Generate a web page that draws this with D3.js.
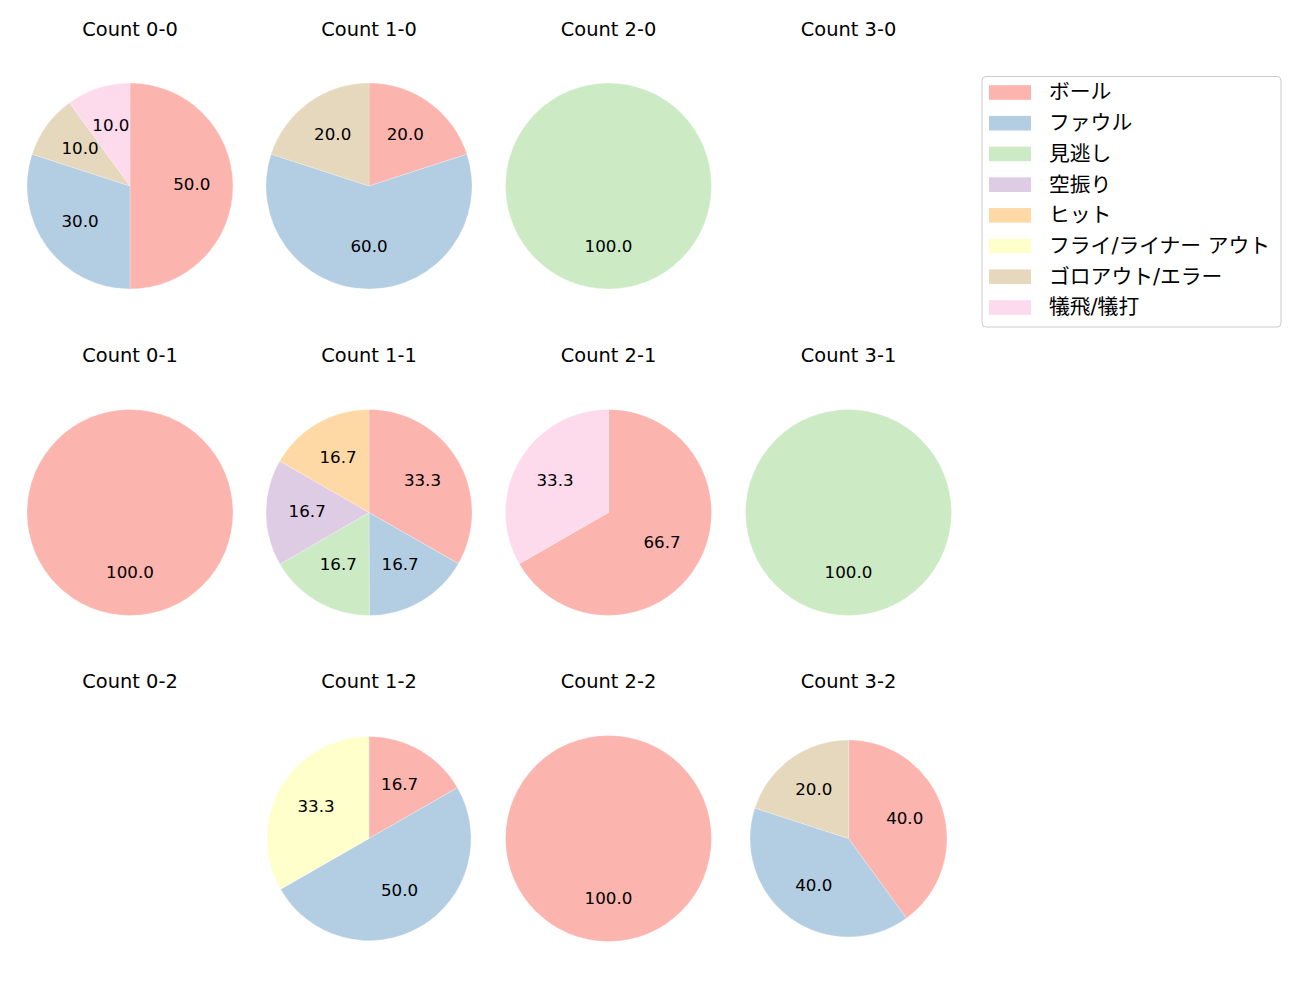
<!DOCTYPE html>
<html><head><meta charset="utf-8">
<script src="https://cdn.jsdelivr.net/npm/d3@7"></script>
<style>
body{margin:0;background:#fff;}
svg text{font-family:"DejaVu Sans","Noto Sans CJK JP",sans-serif;fill:#000;}
</style></head>
<body><svg id="c" width="1300" height="1000"></svg>
<script>
const categories = ["ボール","ファウル","見逃し","空振り","ヒット","フライ/ライナー アウト","ゴロアウト/エラー","犠飛/犠打"];
const colors = ["#fbb4ae","#b3cde3","#ccebc5","#decbe4","#fed9a6","#ffffcc","#e5d8bd","#fddaec"];
const counts = ["0-0","1-0","2-0","3-0","0-1","1-1","2-1","3-1","0-2","1-2","2-2","3-2"];
// values per count, in category order (percent)
const v00 = [50,30,0,0,0,0,10,10];
const v10 = [20,60,0,0,0,0,20,0];
const v20 = [0,0,100,0,0,0,0,0];
const v30 = [0,0,0,0,0,0,0,0];
const v01 = [100,0,0,0,0,0,0,0];
const v11 = [33.3,16.7,16.7,16.7,16.7,0,0,0];
const v21 = [66.7,0,0,0,0,0,0,33.3];
const v31 = [0,0,100,0,0,0,0,0];
const v02 = [0,0,0,0,0,0,0,0];
const v12 = [16.7,50,0,0,0,33.3,0,0];
const v22 = [100,0,0,0,0,0,0,0];
const v32 = [40,40,0,0,0,0,20,0];
const values = [v00,v10,v20,v30,v01,v11,v21,v31,v02,v12,v22,v32];

const svg = d3.select("#c");
const rowYs = [186,512.5,838.5];
const colXs = [130,369,608.5,848.5];
const radii = [103,103,103,103,103,103,103,103,103,102,103,98.5];
const color = d3.scaleOrdinal().domain(categories).range(colors);
const pie = d3.pie().sort(null).value(d=>d.v);

counts.forEach((c,i)=>{
  const col = i%4, row = Math.floor(i/4);
  const cx = colXs[col], cy = rowYs[row];
  const g = svg.append("g").attr("transform",`translate(${cx},${cy})`);
  g.append("text").attr("x",0).attr("y",-150.5).attr("text-anchor","middle")
    .style("font-size","19.4px").text("Count "+c);
  const data = categories.map((k,j)=>({k,v:values[i][j]})).filter(d=>d.v>0);
  if(!data.length) return;
  const r = radii[i];
  const arc = d3.arc().innerRadius(0).outerRadius(r);
  const arcs = pie(data);
  g.selectAll("path").data(arcs).join("path").attr("d",arc)
    .attr("fill",d=>color(d.data.k)).attr("stroke","#fff").attr("stroke-width",0.4).attr("stroke-opacity",0.6);
  const lab = d3.arc().innerRadius(r*0.6).outerRadius(r*0.6);
  g.selectAll("text.l").data(arcs).join("text").attr("class","l")
    .attr("transform",d=>`translate(${lab.centroid(d)})`).attr("text-anchor","middle")
    .attr("dy","0.25em").style("font-size","16.7px").text(d=>d.data.v.toFixed(1));
});

// legend
const lg = svg.append("g").attr("transform","translate(982,76.5)");
lg.append("rect").attr("x",0).attr("y",0).attr("width",299).attr("height",250.5).attr("rx",4)
  .attr("fill","#fff").attr("stroke","#ccc").attr("stroke-width",1);
const ly = d3.scalePoint().domain(categories).range([16,231]);
categories.forEach(k=>{
  lg.append("rect").attr("x",7).attr("y",ly(k)-7.3).attr("width",42).attr("height",14.6).attr("fill",color(k));
  lg.append("text").attr("x",67).attr("y",ly(k)).attr("dy","0.33em").style("font-size","20.8px").text(k);
});
</script></body></html>
